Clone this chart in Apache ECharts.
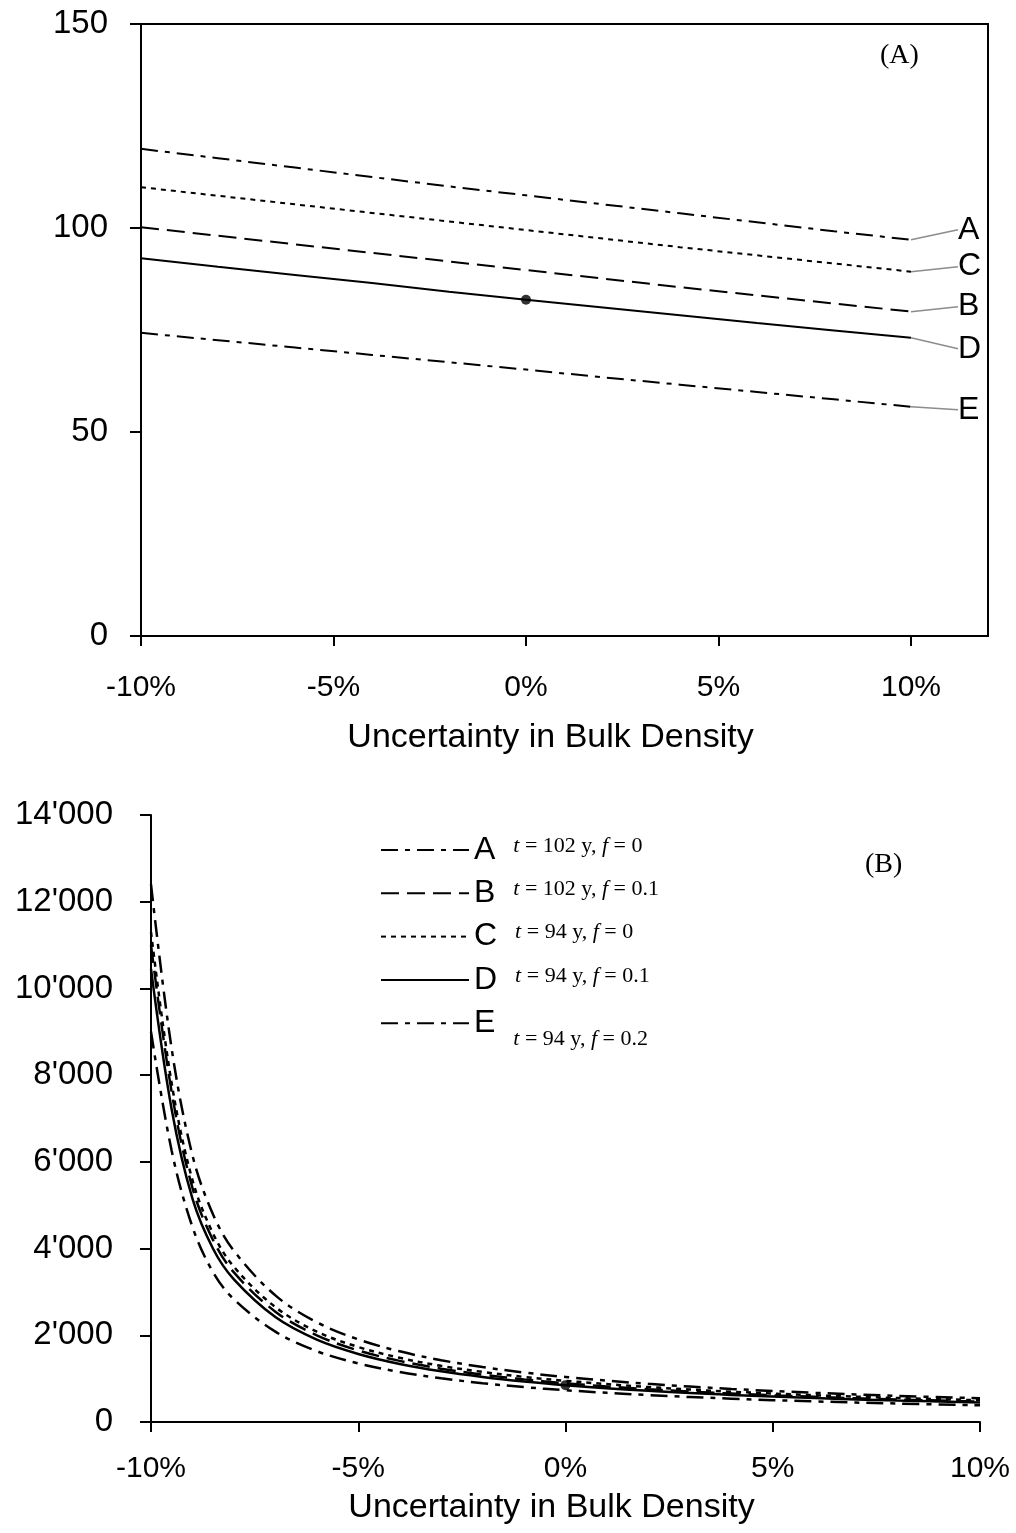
<!DOCTYPE html>
<html><head><meta charset="utf-8">
<script src="https://cdn.jsdelivr.net/npm/echarts@6/dist/echarts.min.js"></script>
<style>html,body{margin:0;padding:0;background:#fff}#c{width:1016px;height:1533px}</style>
</head><body><div id="c"></div>
<script>
// ---- data ----
const names = ['A', 'B', 'C', 'D', 'E'];
const noteT = ['102', '102', '94', '94', '94'];
const noteF = ['0', '0.1', '0', '0.1', '0.2'];
const xTicks = [-10, -5, 0, 5, 10];

// Panel (A)
const xTop = [-10, -8, -6, -4, -2, 0, 2, 4, 6, 8, 10];
const topA = [119.4, 117.1, 114.8, 112.5, 110.2, 108.0, 105.8, 103.6, 101.4, 99.2, 97.1];
const topB = [100.2, 98.1, 96.0, 93.9, 91.8, 89.7, 87.6, 85.5, 83.5, 81.5, 79.5];
const topC = [110.0, 107.9, 105.8, 103.7, 101.6, 99.5, 97.4, 95.3, 93.3, 91.3, 89.3];
const topD = [92.6, 90.5, 88.5, 86.5, 84.4, 82.4, 80.5, 78.6, 76.7, 74.9, 73.1];
const topE = [74.3, 72.5, 70.7, 68.9, 67.1, 65.3, 63.4, 61.6, 59.8, 58.0, 56.2];

// Panel (B)
const xBot = [-10, -9.5, -9, -8.5, -8, -7, -6, -5, -4, -3, -2, -1, 0, 2, 4, 6, 8, 10];
const botA = [12400, 8600, 6150, 4780, 3950, 2920, 2300, 1905, 1630, 1425, 1268, 1142, 1038, 880, 763, 673, 604, 547];
const botB = [11000, 7600, 5400, 4190, 3450, 2545, 2000, 1650, 1410, 1230, 1093, 983, 893, 756, 656, 580, 520, 470];
const botC = [11300, 7800, 5580, 4340, 3580, 2650, 2085, 1730, 1480, 1295, 1155, 1040, 950, 806, 700, 618, 554, 502];
const botD = [10450, 7200, 5150, 3990, 3290, 2420, 1900, 1570, 1340, 1170, 1040, 935, 850, 720, 625, 552, 495, 448];
const botE = [9000, 6250, 4500, 3450, 2830, 2085, 1635, 1352, 1155, 1008, 896, 805, 732, 620, 538, 475, 426, 386];
const refX = 0; // reference point on curve D

// ---- build ----
const topData = {A: topA, B: topB, C: topC, D: topD, E: topE};
const botData = {A: botA, B: botB, C: botC, D: botD, E: botE};
const dashes = {A: [17, 7, 5, 7], B: [18, 8], C: [5, 5], D: 'solid', E: [17, 7, 5, 7]};
const labelDy = {A: -10, B: -5, C: -5, D: 11, E: 3};
const SANS = 'Liberation Sans, Arial, sans-serif';
const SERIF = 'Liberation Serif, Times New Roman, serif';

function pairs(xs, ys) { return xs.map((x, i) => [x, ys[i]]); }

const series = [];
names.forEach(n => {
  const pts = pairs(xTop, topData[n]);
  series.push({
    type: 'line', name: 'top' + n, xAxisIndex: 0, yAxisIndex: 0,
    symbol: 'circle', symbolSize: 0, showSymbol: true,
    data: pts.map((p, i) => i === pts.length - 1 ? {value: p, label: {show: true}} : p),
    lineStyle: {color: '#000', width: 2, type: dashes[n]},
    itemStyle: {color: '#000'},
    label: {show: false, formatter: n, position: 'right', distance: 0,
      fontFamily: SANS, fontSize: 32, color: '#000'},
    labelLayout: {dx: 47, dy: labelDy[n]},
    labelLine: {show: true, lineStyle: {color: '#8c8c8c', width: 1.5}},
    silent: true, animation: false, z: 3
  });
});
series.push({
  type: 'scatter', name: 'refTop', xAxisIndex: 0, yAxisIndex: 0,
  data: [[refX, topD[xTop.indexOf(refX)]]], symbol: 'circle', symbolSize: 10,
  itemStyle: {color: '#000'}, silent: true, animation: false, z: 5
});
names.forEach(n => {
  series.push({
    type: 'line', name: n, xAxisIndex: 1, yAxisIndex: 1,
    symbol: 'none', smooth: 0.35,
    data: pairs(xBot, botData[n]),
    lineStyle: {color: '#000', width: 2.5, type: dashes[n]},
    itemStyle: {color: '#000'},
    silent: true, animation: false, z: 3
  });
});
series.push({
  type: 'scatter', name: 'refBot', xAxisIndex: 1, yAxisIndex: 1,
  data: [[refX, botD[xBot.indexOf(refX)]]], symbol: 'circle', symbolSize: 10,
  itemStyle: {color: '#000'}, silent: true, animation: false, z: 5
});

function xAxisCfg(gridIndex, max, margin, nameGap) {
  return {
    type: 'value', gridIndex, min: -10, max, interval: 5,
    name: 'Uncertainty in Bulk Density', nameLocation: 'middle', nameGap,
    nameTextStyle: {fontFamily: SANS, fontSize: 34, color: '#000', padding: [0, 28, 0, 0]},
    axisLine: {show: true, onZero: false, lineStyle: {color: '#000', width: 2}},
    axisTick: {show: true, length: 10, customValues: xTicks, lineStyle: {color: '#000', width: 2}},
    axisLabel: {customValues: xTicks, formatter: v => v + '%', fontFamily: SANS, fontSize: 30,
      color: '#000', margin},
    splitLine: {show: false}
  };
}
function yAxisCfg(gridIndex, max, interval, margin, formatter) {
  return {
    type: 'value', gridIndex, min: 0, max, interval,
    axisLine: {show: true, onZero: false, lineStyle: {color: '#000', width: 2}},
    axisTick: {show: true, length: 11, lineStyle: {color: '#000', width: 2}},
    axisLabel: {fontFamily: SANS, fontSize: 33, color: '#000', margin, formatter},
    splitLine: {show: false}
  };
}

const option = {
  backgroundColor: '#fff',
  animation: false,
  title: [
    {text: '(A)', left: 875, top: 37, textStyle: {fontFamily: SERIF, fontSize: 28, fontWeight: 'normal', color: '#000'}},
    {text: '(B)', left: 860, top: 846, textStyle: {fontFamily: SERIF, fontSize: 28, fontWeight: 'normal', color: '#000'}}
  ],
  grid: [
    {left: 141, top: 24, width: 847, height: 612, show: true, borderColor: '#000', borderWidth: 2, backgroundColor: 'transparent'},
    {left: 151, top: 815, width: 829, height: 607}
  ],
  xAxis: [xAxisCfg(0, 12, 37, 85), xAxisCfg(1, 10, 32, 69)],
  yAxis: [
    yAxisCfg(0, 150, 50, 33),
    yAxisCfg(1, 14000, 2000, 38, v => v === 0 ? '0' : String(v).replace(/(\d)(?=(\d{3})+$)/g, "$1'"))
  ],
  legend: {
    data: names, orient: 'vertical', left: 375, top: 829, itemWidth: 88, itemHeight: 14, itemGap: 11.3,
    selectedMode: false,
    itemStyle: {opacity: 0},
    formatter: name => {
      const i = names.indexOf(name);
      const s = name === 'E' ? 'l' : '';
      return '{L|' + name + '}{g|}{i' + s + '|t}{n' + s + '| = ' + noteT[i] + ' y, }{i' + s + '|f}{n' + s + '| = ' + noteF[i] + '}';
    },
    textStyle: {
      color: '#000',
      rich: {
        L: {fontFamily: SANS, fontSize: 32, lineHeight: 32, color: '#000'},
        g: {width: 18},
        i: {fontFamily: SERIF, fontStyle: 'italic', fontSize: 22, color: '#000', padding: [0, 0, 8, 0]},
        n: {fontFamily: SERIF, fontSize: 22, color: '#000', padding: [0, 0, 8, 0]},
        il: {fontFamily: SERIF, fontStyle: 'italic', fontSize: 22, color: '#000', padding: [32, 0, 0, 0]},
        nl: {fontFamily: SERIF, fontSize: 22, color: '#000', padding: [32, 0, 0, 0]}
      }
    }
  },
  series
};

const chart = echarts.init(document.getElementById('c'), null, {renderer: 'canvas'});
chart.setOption(option);
</script>
</body></html>
